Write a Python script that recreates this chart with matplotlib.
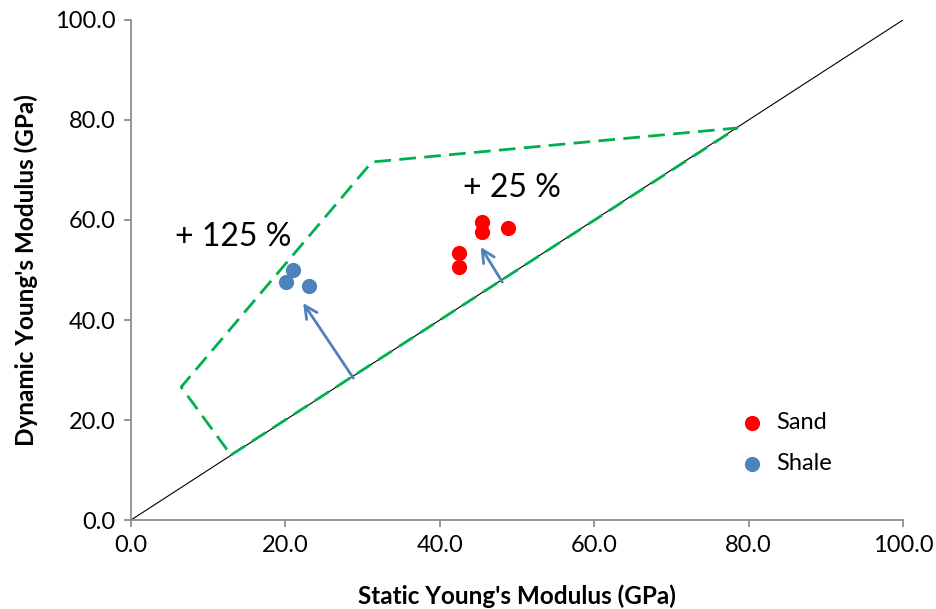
import matplotlib.pyplot as plt

plt.rcParams['font.family'] = ['Lato', 'DejaVu Sans']

# data
sand_x = [42.5, 42.5, 45.5, 45.5, 48.9]
sand_y = [53.4, 50.6, 59.6, 57.6, 58.4]
shale_x = [21.0, 20.1, 23.1]
shale_y = [50.0, 47.6, 46.8]

# envelope of dynamic vs static moduli
env_x = [12.95, 78.5, 31.2, 6.5, 12.95]
env_y = [13.0, 78.4, 71.6, 26.6, 13.0]

# arrows: (tail x, tail y, head x, head y)
arrows = [(28.8, 28.4, 22.3, 43.4), (48.1, 47.6, 45.3, 54.6)]

ticks = [0, 20, 40, 60, 80, 100]
tick_labels = ['0.0', '20.0', '40.0', '60.0', '80.0', '100.0']

fig = plt.figure(figsize=(9.37, 6.09), dpi=100)
ax = fig.add_axes([0.1398, 0.1461, 0.8239, 0.8211])

ax.plot([0, 100], [0, 100], color='black', lw=0.8, zorder=1)
ax.plot(env_x, env_y, color='#00B050', lw=2, dashes=(6, 3), zorder=2)

for x0, y0, x1, y1 in arrows:
    ax.annotate('', xy=(x1, y1), xytext=(x0, y0),
                arrowprops=dict(arrowstyle='->,head_length=0.9,head_width=0.45',
                                color='#4F81BD', lw=2, shrinkA=0, shrinkB=0))

ax.scatter(sand_x, sand_y, s=120, color='#FF0000', label='Sand', zorder=3, linewidths=0)
ax.scatter(shale_x, shale_y, s=120, color='#4F81BD', label='Shale', zorder=3, linewidths=0)

ax.text(13.3, 56.6, '+ 125 %', fontsize=23, ha='center', va='center')
ax.text(49.4, 66.4, '+ 25 %', fontsize=23, ha='center', va='center')

ax.set_xlim(0, 100)
ax.set_ylim(0, 100)
ax.set_xticks(ticks)
ax.set_xticklabels(tick_labels)
ax.set_yticks(ticks)
ax.set_yticklabels(tick_labels)
ax.tick_params(labelsize=17, direction='out', length=5, width=1.2, color='#868686', pad=6)

for side in ['top', 'right']:
    ax.spines[side].set_visible(False)
for side in ['left', 'bottom']:
    ax.spines[side].set_color('#868686')
    ax.spines[side].set_linewidth(1.2)

ax.set_xlabel("Static Young's Modulus (GPa)", fontsize=17.5, fontweight='bold', labelpad=20)
ax.set_ylabel("Dynamic Young's Modulus (GPa)", fontsize=17.5, fontweight='bold', labelpad=12)

ax.legend(loc='upper left', bbox_to_anchor=(0.758, 0.24), frameon=False, fontsize=17,
          handletextpad=0.05, borderpad=0.0, labelspacing=0.85, markerscale=1.0)

fig.savefig('out.png', dpi=100)
